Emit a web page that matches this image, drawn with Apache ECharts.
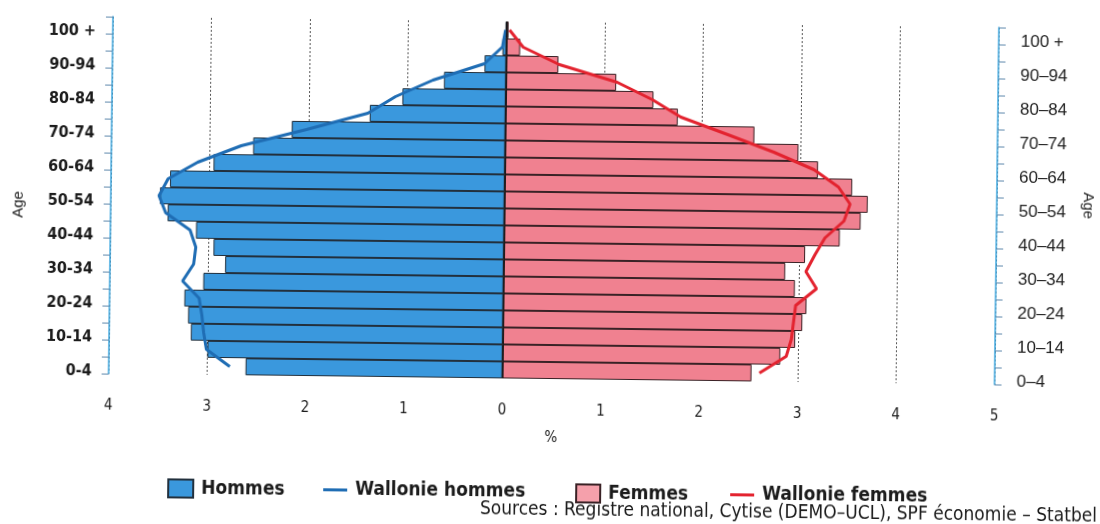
<!DOCTYPE html>
<html lang="fr">
<head>
<meta charset="utf-8">
<title>Pyramide des âges</title>
<script src="https://cdn.jsdelivr.net/npm/echarts@6/dist/echarts.min.js"></script>
<style>
  html, body { margin: 0; padding: 0; background: #ffffff; overflow: hidden; }
  #chart { width: 1100px; height: 524px; transform: rotate(0.7deg); transform-origin: 550px 262px; }
</style>
</head>
<body>
<div id="chart"></div>
<script>
// Age groups, youngest first (bottom of the pyramid)
const ageGroups = ['0-4', '5-9', '10-14', '15-19', '20-24', '25-29', '30-34', '35-39', '40-44', '45-49',
                   '50-54', '55-59', '60-64', '65-69', '70-74', '75-79', '80-84', '85-89', '90-94', '95-99', '100 +'];

// Share of the population in each age group (%)
const hommes          = [2.61, 3.00, 3.17, 3.20, 3.24, 3.05, 2.83, 2.95, 3.13, 3.42, 3.50, 3.40, 2.96, 2.56, 2.17, 1.38, 1.05, 0.63, 0.22, 0.04, 0.01];
const femmes          = [2.53, 2.82, 2.97, 3.04, 3.08, 2.96, 2.86, 3.06, 3.41, 3.62, 3.69, 3.53, 3.18, 2.98, 2.53, 1.75, 1.50, 1.12, 0.53, 0.14, 0.02];
const wallonieHommes  = [2.77, 3.01, 3.04, 3.06, 3.09, 3.26, 3.15, 3.13, 3.19, 3.44, 3.51, 3.42, 3.12, 2.68, 2.02, 1.40, 1.12, 0.74, 0.22, 0.04, 0.01];
const wallonieFemmes  = [2.61, 2.88, 2.93, 2.95, 2.97, 3.18, 3.07, 3.16, 3.26, 3.45, 3.51, 3.39, 3.14, 2.73, 2.26, 1.78, 1.49, 1.13, 0.54, 0.17, 0.03];

// Percentage axis ticks (men drawn to the left of zero)
const xMin = -4, xMax = 5, xStep = 1;

const narrow = "'Liberation Sans Narrow', 'DejaVu Sans Condensed', 'Liberation Sans', sans-serif";
const regular = "'Liberation Sans', 'DejaVu Sans', sans-serif";

const blue = '#3a98dd';
const pink = '#f08190';
const blueLine = '#1f6db4';
const redLine = '#e3232f';
const axisBlue = '#3fa9e0';

const chart = echarts.init(document.getElementById('chart'), null, { renderer: 'canvas' });

const legendText = { fontFamily: narrow, fontWeight: 'bold', fontSize: 19, color: '#1b1b1b', padding: [0, 0, 0, 3] };
const legendTop = 478;

chart.setOption({
  animation: false,
  backgroundColor: '#ffffff',
  grid: { left: 110, right: 104, top: 22, bottom: 145, containLabel: false },
  xAxis: {
    type: 'value',
    min: xMin,
    max: xMax,
    interval: xStep,
    name: '%',
    nameLocation: 'middle',
    nameGap: 52,
    nameTextStyle: { fontFamily: narrow, fontSize: 15, color: '#1b1b1b' },
    axisLine: { show: false },
    axisTick: { show: false },
    axisLabel: {
      margin: 25,
      fontFamily: narrow,
      fontSize: 15,
      color: '#1b1b1b',
      formatter: v => String(Math.abs(v))
    },
    splitLine: { show: true, lineStyle: { color: '#555555', width: 1, type: [2, 2] } }
  },
  yAxis: [
    {
      type: 'category',
      data: ageGroups,
      position: 'left',
      axisLine: { show: true, onZero: false, lineStyle: { color: axisBlue, width: 1.5 } },
      axisTick: { show: true, interval: 0, length: 7, lineStyle: { color: '#5f89ad', width: 1 } },
      axisLabel: {
        interval: 1, margin: 17, verticalAlign: 'top', lineHeight: 12,
        fontFamily: narrow, fontWeight: 'bold', fontSize: 16, color: '#1b1b1b'
      },
      splitLine: { show: false }
    },
    {
      type: 'category',
      data: ageGroups,
      position: 'right',
      axisLine: { show: true, onZero: false, lineStyle: { color: axisBlue, width: 1.5 } },
      axisTick: { show: true, interval: 0, length: 7, lineStyle: { color: '#5f89ad', width: 1 } },
      axisLabel: {
        interval: 1, margin: 22, verticalAlign: 'top', lineHeight: 12,
        fontFamily: regular, fontSize: 17, color: '#222222',
        formatter: v => v.replace('-', '\u2013')
      },
      splitLine: { show: false }
    }
  ],
  legend: [
    { data: ['Hommes'], left: 165, top: legendTop, icon: 'rect', itemWidth: 25, itemHeight: 18, textStyle: legendText },
    { data: ['Wallonie hommes'], left: 321, top: legendTop, icon: 'rect', itemWidth: 24, itemHeight: 3, textStyle: legendText },
    { data: [{ name: 'Femmes', itemStyle: { color: '#f5a0ab' } }], left: 573, top: legendTop, icon: 'rect', itemWidth: 24, itemHeight: 18, textStyle: legendText },
    { data: ['Wallonie femmes'], left: 728, top: legendTop, icon: 'rect', itemWidth: 24, itemHeight: 3, textStyle: legendText }
  ],
  graphic: [
    {
      type: 'text',
      x: 18, y: 211,
      rotation: Math.PI / 2,
      style: { text: 'Age', fontFamily: regular, fontSize: 15, fill: '#1b1b1b', align: 'center', verticalAlign: 'middle' }
    },
    {
      type: 'text',
      x: 1087, y: 199,
      rotation: -Math.PI / 2,
      style: { text: 'Age', fontFamily: regular, fontSize: 15, fill: '#1b1b1b', align: 'center', verticalAlign: 'middle' }
    },
    {
      type: 'text',
      right: 0,
      top: 501,
      style: {
        text: 'Sources : Registre national, Cytise (DEMO\u2013UCL), SPF économie \u2013 Statbel',
        fontFamily: narrow,
        fontSize: 19,
        fill: '#1b1b1b'
      }
    }
  ],
  series: [
    {
      name: 'Hommes',
      type: 'bar',
      yAxisIndex: 0,
      data: hommes.map(v => -v),
      color: blue,
      barGap: '-100%',
      barCategoryGap: '0%',
      itemStyle: { color: blue, borderColor: '#22303d', borderWidth: 1 },
      z: 2,
      markLine: {
        silent: true,
        symbol: 'none',
        label: { show: false },
        lineStyle: { color: '#111111', type: 'solid', width: 1.5 },
        data: [{ xAxis: 0 }],
        z: 6
      }
    },
    {
      name: 'Femmes',
      type: 'bar',
      yAxisIndex: 0,
      data: femmes,
      color: pink,
      barGap: '-100%',
      barCategoryGap: '0%',
      itemStyle: { color: pink, borderColor: '#3a2226', borderWidth: 1 },
      z: 2
    },
    {
      name: 'Wallonie hommes',
      type: 'line',
      yAxisIndex: 0,
      data: wallonieHommes.map(v => -v),
      color: blueLine,
      showSymbol: false,
      lineStyle: { color: blueLine, width: 3 },
      z: 5
    },
    {
      name: 'Wallonie femmes',
      type: 'line',
      yAxisIndex: 0,
      data: wallonieFemmes,
      color: redLine,
      showSymbol: false,
      lineStyle: { color: redLine, width: 3 },
      z: 5
    }
  ]
});
</script>
</body>
</html>
